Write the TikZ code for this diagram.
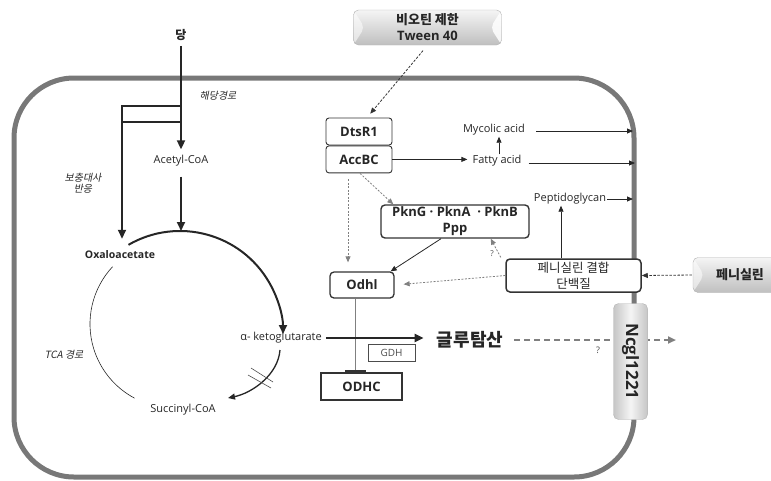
\documentclass[tikz,border=0pt]{standalone}
\usepackage{fontspec}
\setmainfont{Open Sans}
\newfontfamily\kr{Noto Sans CJK KR}
\newfontfamily\krit[FakeSlant=0.2]{Noto Sans CJK KR}
\usetikzlibrary{arrows.meta,positioning}
\definecolor{wall}{RGB}{120,120,120}

\begin{document}
\begin{tikzpicture}[x=1pt, y=-1pt, font=\fontsize{11}{13}\selectfont,
    >={Triangle[length=6pt,width=5pt]}]
  \tikzset{
    txt/.style={inner sep=1pt, text=black!85},
    krtxt/.style={txt, font=\krit\fontsize{10}{11}\selectfont},
    protbox/.style={draw=black!80, fill=white, rounded corners=3pt, line width=0.9pt,
      inner sep=0pt, text=black!85, font=\fontsize{13}{15}\selectfont\bfseries},
    thickarr/.style={-{Triangle[length=9pt,width=8pt]}, line width=2pt, black!85},
    thinarr/.style={->, line width=0.8pt, black!85},
    greyarr/.style={->, gray, line width=0.8pt, dash pattern=on 2pt off 1.5pt},
    dotarr/.style={->, black!80, line width=0.8pt, dash pattern=on 2.5pt off 1.5pt},
    glossy/.style={rounded corners=5pt, draw=gray!60, top color=gray!8, bottom color=gray!50,
      text=black!85, font=\fontsize{13}{16}\selectfont\bfseries, inner sep=0pt},
    notches/.style={path picture={
      \fill[white, opacity=0.55] (path picture bounding box.north west)
        -- ([xshift=#1]path picture bounding box.west) -- (path picture bounding box.south west) -- cycle;
      \fill[white, opacity=0.85] (path picture bounding box.north east)
        -- ([xshift=-#1]path picture bounding box.east) -- (path picture bounding box.south east) -- cycle;}},
    vnotches/.style={path picture={
      \fill[white, opacity=0.6] (path picture bounding box.north west)
        -- ([yshift=#1]path picture bounding box.north) -- (path picture bounding box.north east) -- cycle;
      \fill[white, opacity=0.6] (path picture bounding box.south west)
        -- ([yshift=-#1]path picture bounding box.south) -- (path picture bounding box.south east) -- cycle;}}
  }
  \clip (0,0) rectangle (771,480);

  % Cell wall
  \draw[wall, line width=5pt, rounded corners=60pt] (14,78) rectangle (634,477);

  % Sugar and glycolysis
  \node[txt, font=\kr\fontsize{12}{14}\selectfont\bfseries] (sugar) at (181,35) {당};
  \node[txt, inner sep=6pt] (acetyl) at (181,161) {Acetyl-CoA};
  \coordinate (split) at (181,106);
  \coordinate (branchA) at (122,106);
  \coordinate (branchB) at (122,122);
  \coordinate (branchC) at (181,122);
  \coordinate (tcatop) at (181,231);
  \draw[thickarr, shorten <=4pt] (sugar) -- (acetyl);
  \draw[thickarr, shorten <=4pt] (acetyl) -- (tcatop);
  \node[krtxt] (glyco) at (218,96) {해당경로};

  % Anaplerotic branch
  \node[txt, font=\fontsize{10.5}{12}\selectfont\bfseries] (oxalo) at (120,255) {Oxaloacetate};
  \draw[line width=2pt, black!85] (branchB) -- (branchC);
  \draw[thickarr, shorten >=11pt] (split) -- (branchA) -- (branchA |- oxalo.north);
  \node[krtxt, align=center] (anaplero) at (83,183) {보충대사\\반응};

  % TCA cycle
  \coordinate (tcac) at (180,334);
  \draw[line width=2pt, black!85, -{Triangle[length=9pt,width=8pt]}]
    (tcac) ++(-120:103) arc[start angle=-120, end angle=0, radius=103];
  \draw[black!85, line width=0.6pt] (174,324) ++(223:84) arc[start angle=223, end angle=118, radius=84];
  \node[txt] (akg) at (281,338) {α- ketoglutarate};
  \node[txt] (succ) at (183,410) {Succinyl-CoA};
  \node[krtxt] (tcalbl) at (64,355) {TCA 경로};
  \coordinate (akgout) at (280,350);
  \coordinate (succin) at (228,398);
  \draw[black!85, line width=1.3pt, -{Triangle[length=7pt,width=6pt]}]
    (akgout) .. controls (278,375) and (252,393) .. (succin);
  % blocked step
  \draw[black!70, line width=0.6pt] (251,368) -- (273,382);
  \draw[black!70, line width=0.6pt] (248,375) -- (271,388);

  % Odhl and ODHC
  \node[protbox, rounded corners=4pt, line width=1.3pt, minimum width=64pt, minimum height=26pt] (odhl) at (362,285) {Odhl};
  \node[protbox, rounded corners=0pt, line width=1.3pt, minimum width=81pt, minimum height=27pt] (odhc) at (361.5,386.5) {ODHC};
  \draw[gray, line width=0.8pt, -{Bar[width=21pt, line width=2pt, color=black!80]}]
    ([xshift=-7pt]odhl.south) -- ([xshift=-6.5pt]odhc.north);

  % Glutamate
  \node[txt, font=\kr\fontsize{18}{20}\selectfont\bfseries] (glu) at (470,340) {글루탐산};
  \draw[thickarr, line width=2.5pt, shorten <=3pt, shorten >=12pt] (akg.east) -- (akg.east -| glu.west);
  \node[draw=black!70, line width=0.6pt, minimum width=47pt, minimum height=17pt, inner sep=0pt,
    text=black!70, font=\fontsize{10}{12}\selectfont] (gdh) at (391.5,353) {GDH};
  \coordinate (gluout) at (676,339);
  \draw[gray, line width=2pt, dash pattern=on 6pt off 4pt, shorten <=10pt, -{Triangle[length=8pt,width=7pt]}]
    (glu.east) -- (glu.east -| gluout);
  \node[txt, text=black!70, font=\fontsize{9}{11}\selectfont] (q2) at (598,350) {?};

  % DtsR1 / AccBC and biotin limitation
  \node[protbox, minimum width=66pt, minimum height=27pt] (dtsr) at (359,131.5) {DtsR1};
  \node[protbox, minimum width=66pt, minimum height=27pt, below=0pt of dtsr] (accbc) {AccBC};
  \node[glossy, notches=11pt, minimum width=148pt, minimum height=35pt, align=center] (biotin) at (427.5,27.5)
    {{\kr 비오틴 제한}\\Tween 40};
  \draw[dotarr, shorten <=7pt, shorten >=5pt] (biotin.south) -- (dtsr.60);

  % Fatty acids and wall
  \node[txt] (fatty) at (497,161) {Fatty acid};
  \node[txt] (mycolic) at (494,130) {Mycolic acid};
  \node[txt] (pepti) at (570,199) {Peptidoglycan};
  \coordinate (wallA) at (633,131);
  \coordinate (wallB) at (635,163);
  \coordinate (wallC) at (633,199);
  \draw[thinarr, shorten >=4pt] (accbc.east) -- (accbc.east -| fatty.west);
  \draw[thinarr] ([xshift=2pt]fatty.north) -- ([xshift=2pt]fatty.north |- mycolic.south);
  \draw[thinarr, shorten <=10pt] (mycolic.east |- wallA) -- (wallA);
  \draw[thinarr, shorten <=6pt] (fatty.east |- wallB) -- (wallB);
  \draw[thinarr] (pepti.east) -- (wallC);

  % Kinases
  \node[protbox, rounded corners=4pt, line width=1.4pt, minimum width=148pt, minimum height=33pt,
    align=center, font=\fontsize{13}{16}\selectfont\bfseries] (pkn) at (455,221.5) {PknG · PknA\ \ · PknB\\Ppp};

  % Penicillin binding protein
  \node[protbox, rounded corners=4pt, line width=1.5pt, minimum width=135pt, minimum height=33pt,
    align=center, font=\kr\fontsize{12.5}{16}\selectfont] (pbp) at (573.5,275.5) {페니실린 결합\\단백질};

  \draw[greyarr] ([xshift=1pt]accbc.south) -- ([xshift=13pt]pkn.north west);
  \draw[greyarr, shorten <=6pt, shorten >=9pt] ([xshift=-11pt]accbc.south) -- ([xshift=-14pt]odhl.north);
  \draw[thinarr] ([xshift=-14pt]pkn.south) -- ([xshift=-4pt]odhl.north east);
  \draw[greyarr, shorten >=9pt] (pbp.west) -- (odhl.east);
  \draw[greyarr, shorten <=1pt] ([xshift=-4pt]pbp.north west) -- ([xshift=-39pt]pkn.south east);
  \node[txt, text=black!70, font=\fontsize{8}{10}\selectfont] (q1) at (492,254) {?};
  \draw[thinarr] ([xshift=-12.5pt]pbp.north) -- ([xshift=-9pt]pepti.south);

  % Penicillin
  \node[glossy, notches=11pt, minimum width=94pt, minimum height=35pt] (pen) at (740,275) {\kr 페니실린};
  \draw[dotarr, shorten <=1pt] (pen.west) -- (pbp.east);

  % Ncgl1221 exporter
  \node[glossy, rotate=-90, minimum width=116pt, minimum height=34pt, font=\fontsize{17}{19}\selectfont\bfseries,
    left color=gray!45, right color=gray!45, middle color=gray!8, vnotches=10pt] (ncgl) at (630.5,361.5) {Ncgl1221};
\end{tikzpicture}
\end{document}
